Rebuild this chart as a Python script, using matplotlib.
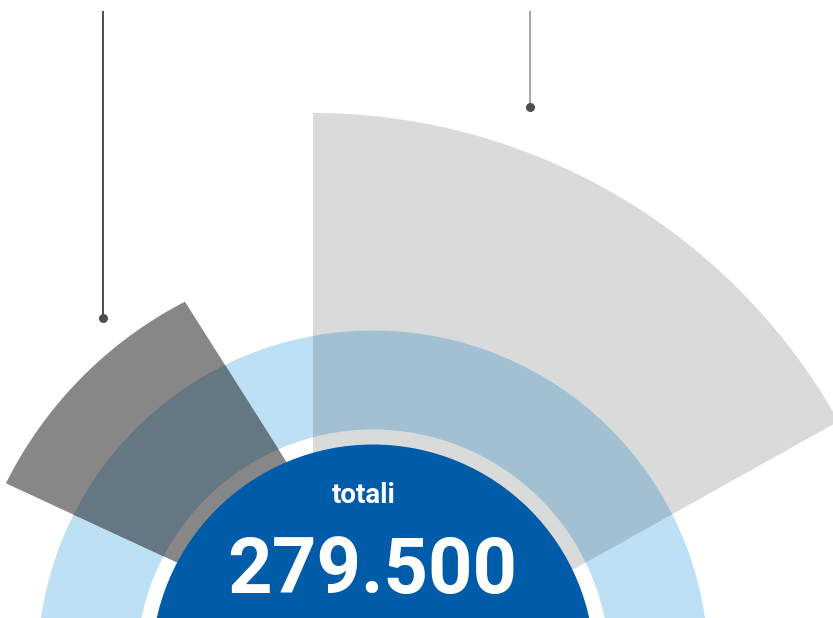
import matplotlib
matplotlib.use("Agg")
import matplotlib.pyplot as plt
from matplotlib.patches import Wedge, Circle, Polygon
import numpy as np

# ---------------- data ----------------
total_label = "totali"
total_value = 279500
segment_names = ["segmento sinistro", "segmento destro"]
segment_start_deg = [122.35, 29.2]   # angular start of each segment (ccw)
segment_end_deg = [155.15, 90.0]     # angular end of each segment
segment_reach = [410, 602]           # radial reach of each segment

# ---------------- layout / style ----------------
W, H = 833, 618
ring_center = np.array([373.0, -48.0])
ring_outer, ring_width = 335.5, 99
core_radius = 221.5
segment_apex = [np.array([422.0, -58.0]), np.array([313.0, -97.0])]
segment_arc_center = [ring_center, segment_apex[1]]
segment_colors = ["#878787", "#d9dbdb"]
ring_color = "#bde0f5"
core_color = "#005ca9"
leader_x = [103, 530]
leader_top = [607, 607]
leader_dot = [300, 511]
leader_colors = ["#4d4d4d", "#a6a6a6"]


def multiply(c1, c2):
    a = np.array(matplotlib.colors.to_rgb(c1))
    b = np.array(matplotlib.colors.to_rgb(c2))
    return tuple(a * b)


def ray_circle(p, ang, c, r):
    d = np.array([np.cos(np.radians(ang)), np.sin(np.radians(ang))])
    f = p - c
    b = np.dot(f, d)
    cc = np.dot(f, f) - r * r
    t = -b + np.sqrt(b * b - cc)
    return p + t * d


def segment_polygon(apex, a0, a1, c, r, **kw):
    p0 = ray_circle(apex, a0, c, r)
    p1 = ray_circle(apex, a1, c, r)
    t0 = np.degrees(np.arctan2(*(p0 - c)[::-1]))
    t1 = np.degrees(np.arctan2(*(p1 - c)[::-1]))
    ts = np.radians(np.linspace(t0, t1, 200))
    arc = np.column_stack([c[0] + r * np.cos(ts), c[1] + r * np.sin(ts)])
    pts = np.vstack([apex, arc])
    return Polygon(pts, closed=True, **kw)


fig = plt.figure(figsize=(W / 100, H / 100), dpi=100)
ax = fig.add_axes([0, 0, 1, 1])
ax.set_xlim(0, W)
ax.set_ylim(0, H)
ax.set_aspect("equal")
ax.axis("off")

# light blue ring
ring = Wedge(tuple(ring_center), ring_outer, 0, 180, width=ring_width,
             facecolor=ring_color, edgecolor="none", zorder=1)
ax.add_patch(ring)

# segments
for apex, arc_c, reach, a0, a1, col in zip(segment_apex, segment_arc_center,
                                            segment_reach, segment_start_deg,
                                            segment_end_deg, segment_colors):
    w = segment_polygon(apex, a0, a1, arc_c, reach, facecolor=col,
                        edgecolor="none", zorder=2)
    ax.add_patch(w)
    # multiply-blend overlap with the ring
    ov = Wedge(tuple(ring_center), ring_outer, 0, 180, width=ring_width,
               facecolor=multiply(col, ring_color), edgecolor="none", zorder=3)
    ax.add_patch(ov)
    ov.set_clip_path(w)

# central disc
ax.add_patch(Circle(tuple(ring_center), core_radius, facecolor=core_color,
                    edgecolor="none", zorder=4))

# leader lines
for x, top, dot, col in zip(leader_x, leader_top, leader_dot, leader_colors):
    ax.plot([x, x], [dot, top], color=col, lw=1.4, zorder=5,
            solid_capstyle="butt")
    ax.plot([x], [dot], marker="o", ms=6.5, color="#4d4d4d",
            markeredgewidth=0, zorder=6)

# texts
value_text = f"{total_value:,}".replace(",", ".")
ax.text(363.5, 115, total_label, ha="center", va="baseline", color="white",
        fontsize=20, fontweight="bold", family=["Roboto", "DejaVu Sans"], zorder=7)
ax.text(372.5, 25, value_text, ha="center", va="baseline", color="white",
        fontsize=56, fontweight="bold", family=["Roboto", "DejaVu Sans"], zorder=7)

fig.savefig("out.png", dpi=100)
